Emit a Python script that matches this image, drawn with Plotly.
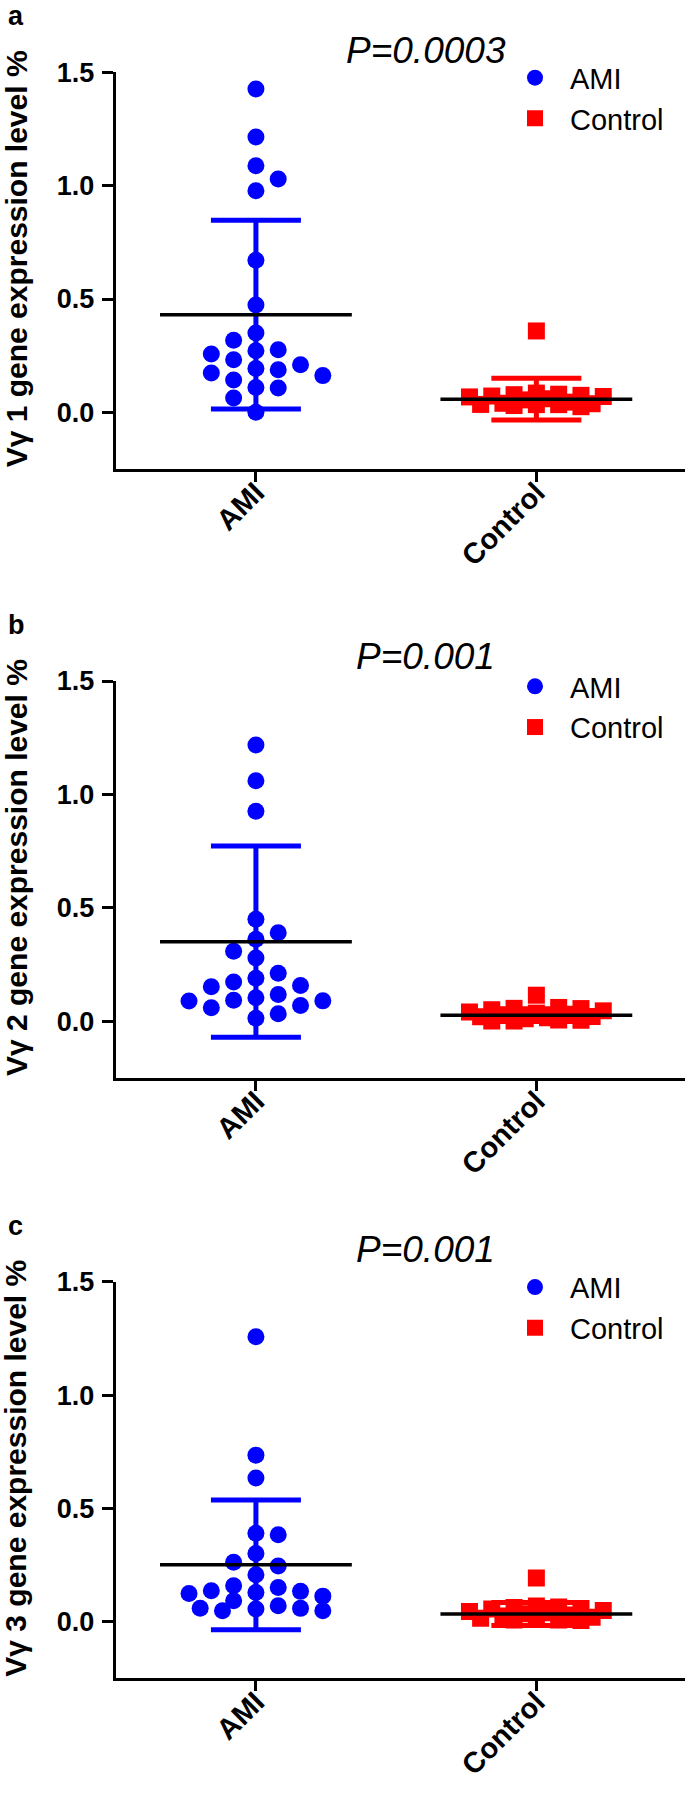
import plotly.graph_objects as go

# ---------------- data ----------------
categories = ["AMI", "Control"]
panel_letters = ["a", "b", "c"]
y_titles = ["Vγ 1 gene expression level %",
            "Vγ 2 gene expression level %",
            "Vγ 3 gene expression level %"]
p_texts = ["P=0.0003", "P=0.001", "P=0.001"]
y_tick_vals = [0.0, 0.5, 1.0, 1.5]
y_tick_text = ["0.0", "0.5", "1.0", "1.5"]

ami_v1 = [1.426, 1.215, 1.088, 1.029, 0.978, 0.671, 0.474, 0.350, 0.318, 0.276,
          0.272, 0.257, 0.232, 0.210, 0.193, 0.188, 0.174, 0.162, 0.143, 0.110,
          0.107, 0.063, 0.0]
control_v1 = [0.359, 0.085, 0.080, 0.078, 0.075, 0.072, 0.070, 0.068, 0.060,
              0.055, 0.045, 0.040, 0.038, 0.035, 0.034, 0.034, 0.030, 0.025]
mean_v1 = [0.431, 0.058]
sd_v1 = [0.416, 0.092]

ami_v2 = [1.218, 1.060, 0.925, 0.449, 0.390, 0.361, 0.308, 0.278, 0.211, 0.189,
          0.172, 0.157, 0.151, 0.117, 0.103, 0.092, 0.089, 0.088, 0.069, 0.059,
          0.032, 0.012]
control_v2 = [0.114, 0.060, 0.056, 0.055, 0.050, 0.045, 0.040, 0.035, 0.030,
              0.025, 0.020, 0.019, 0.015, 0.010, 0.005, 0.004, 0.0, 0.0]
mean_v2 = [0.350, 0.026]
sd_v2 = [0.422, 0.028]

ami_v3 = [1.257, 0.735, 0.634, 0.390, 0.384, 0.301, 0.262, 0.246, 0.207, 0.159,
          0.151, 0.137, 0.134, 0.129, 0.125, 0.113, 0.093, 0.071, 0.060, 0.059,
          0.056, 0.049, 0.049]
control_v3 = [0.193, 0.070, 0.065, 0.063, 0.058, 0.056, 0.050, 0.045, 0.040,
              0.035, 0.030, 0.025, 0.020, 0.015, 0.010, 0.008, 0.008, 0.005]
mean_v3 = [0.251, 0.034]
sd_v3 = [0.286, 0.051]

panels = [
    (ami_v1, control_v1, mean_v1, sd_v1),
    (ami_v2, control_v2, mean_v2, sd_v2),
    (ami_v3, control_v3, mean_v3, sd_v3),
]

# ---------------- layout constants ----------------
W, H = 685, 1796
FONT = "Liberation Sans, Arial, Helvetica, sans-serif"
X_RANGE = [-0.5, 1.53]
Y_RANGE = [-0.25, 1.5]
PLOT_LEFT = 115.7
PLOT_RIGHT = 685.0
PANEL_TOP = [72.3, 681.0, 1281.7]       # pixel row of the y = 1.5 tick
P_OFFSET = [22, 24, 32]                 # P text centre above the 1.5 tick (px)
PX_PER_Y = 226.7
PANEL_H = (Y_RANGE[1] - Y_RANGE[0]) * PX_PER_Y
PX_PER_X = (PLOT_RIGHT - PLOT_LEFT) / (X_RANGE[1] - X_RANGE[0])

BLUE = "#0000FF"
RED = "#FF0000"
MARKER = 17
MEAN_HALF = 0.342
CAP_HALF_PX = 45


def swarm_offsets(values, diam=17.5, col=22.3, ncol=3):
    """Simple beeswarm: returns horizontal offsets (data units) for each value."""
    placed = []
    out = []
    for v in values:
        y = v * PX_PER_Y
        right = sum(1 for px, _ in placed if px > 0.1)
        left = sum(1 for px, _ in placed if px < -0.1)
        sgn = [1, -1] if right <= left else [-1, 1]
        cands = [0.0]
        for k in range(1, ncol + 1):
            cands += [sgn[0] * k * col, sgn[1] * k * col]
        for k in range(ncol):
            cands += [sgn[0] * (k + 0.5) * col, sgn[1] * (k + 0.5) * col]

        def mind(c):
            return min((((c - px) ** 2 + (y - py) ** 2) ** 0.5 for px, py in placed),
                       default=1e9)
        best = None
        for c in cands:
            if mind(c) >= diam:
                best = c
                break
        if best is None:
            best = max(cands, key=mind)
        placed.append((best, y))
        out.append(best / PX_PER_X)
    return out


fig = go.Figure()
layout = dict(
    width=W, height=H,
    margin=dict(l=0, r=0, t=0, b=0),
    paper_bgcolor="white", plot_bgcolor="white",
    showlegend=True,
    font=dict(family=FONT, color="black"),
)
annotations = []

for i, (ami, ctrl, means, sds) in enumerate(panels):
    n = "" if i == 0 else str(i + 1)
    xa, ya = "x" + n, "y" + n
    leg = "legend" + n
    top = PANEL_TOP[i]
    bottom = top + PANEL_H

    ami_off = swarm_offsets(ami)
    ctrl_off = swarm_offsets(ctrl)

    fig.add_trace(go.Scatter(
        x=[0 + o for o in ami_off], y=ami, mode="markers", name=categories[0],
        marker=dict(symbol="circle", size=MARKER, color=BLUE, line=dict(width=0)),
        xaxis=xa, yaxis=ya, legend=leg))
    fig.add_trace(go.Scatter(
        x=[1 + o for o in ctrl_off], y=ctrl, mode="markers", name=categories[1],
        marker=dict(symbol="square", size=MARKER, color=RED, line=dict(width=0)),
        xaxis=xa, yaxis=ya, legend=leg))

    # error bars (mean ± SD)
    for c, col in ((0, BLUE), (1, RED)):
        fig.add_trace(go.Scatter(
            x=[c], y=[means[c]], mode="markers",
            marker=dict(size=1, color=col),
            error_y=dict(type="data", array=[sds[c]], visible=True, color=col,
                         thickness=5, width=CAP_HALF_PX),
            xaxis=xa, yaxis=ya, showlegend=False, hoverinfo="skip"))
    # mean lines
    mx, my = [], []
    for c in (0, 1):
        mx += [c - MEAN_HALF, c + MEAN_HALF, None]
        my += [means[c], means[c], None]
    fig.add_trace(go.Scatter(
        x=mx, y=my, mode="lines", line=dict(color="black", width=3.5),
        xaxis=xa, yaxis=ya, showlegend=False, hoverinfo="skip"))

    dom_y = [1 - bottom / H, 1 - top / H]
    layout["xaxis" + n] = dict(
        domain=[PLOT_LEFT / W, PLOT_RIGHT / W], anchor=ya, range=X_RANGE,
        showline=True, linecolor="black", linewidth=3,
        ticks="outside", ticklen=10, tickwidth=3, tickcolor="black",
        tickvals=[0, 1], ticktext=categories, tickangle=-45,
        tickfont=dict(family=FONT, size=29, color="black", weight="bold"),
        ticklabelstandoff=-18,
        showgrid=False, zeroline=False, automargin=False, fixedrange=True)
    layout["yaxis" + n] = dict(
        domain=dom_y, anchor=xa, range=Y_RANGE,
        showline=True, linecolor="black", linewidth=3,
        ticks="outside", ticklen=11, tickwidth=3, tickcolor="black",
        tickvals=y_tick_vals, ticktext=y_tick_text,
        tickfont=dict(family=FONT, size=27, color="black", weight="bold"),
        ticklabelstandoff=2,
        showgrid=False, zeroline=False, automargin=False, fixedrange=True)
    layout[leg] = dict(
        x=500 / W, y=1 - (top - 20) / H, xanchor="left", yanchor="top",
        font=dict(family=FONT, size=29, color="black"),
        bgcolor="rgba(0,0,0,0)", borderwidth=0, itemwidth=60,
        tracegroupgap=0)

    annotations.append(dict(
        x=6 / W, y=1 - (top - 56) / H, xref="paper", yref="paper",
        text=panel_letters[i], showarrow=False, xanchor="left", yanchor="middle",
        font=dict(family=FONT, size=27, color="black", weight="bold")))
    annotations.append(dict(
        x=426 / W, y=1 - (top - P_OFFSET[i]) / H, xref="paper", yref="paper",
        text=p_texts[i], showarrow=False, xanchor="center", yanchor="middle",
        font=dict(family=FONT, size=37, color="black", style="italic")))
    annotations.append(dict(
        x=16 / W, y=1 - (top + 187) / H, xref="paper", yref="paper",
        text=y_titles[i], showarrow=False, xanchor="center", yanchor="middle",
        textangle=-90,
        font=dict(family=FONT, size=30, color="black", weight="bold")))

layout["annotations"] = annotations
fig.update_layout(**layout)
fig.write_html(
    "out.html",
    config={"displayModeBar": False, "staticPlot": True},
    post_script="document.body.style.margin='0';document.body.style.padding='0';"
                "document.body.style.overflow='hidden';")
